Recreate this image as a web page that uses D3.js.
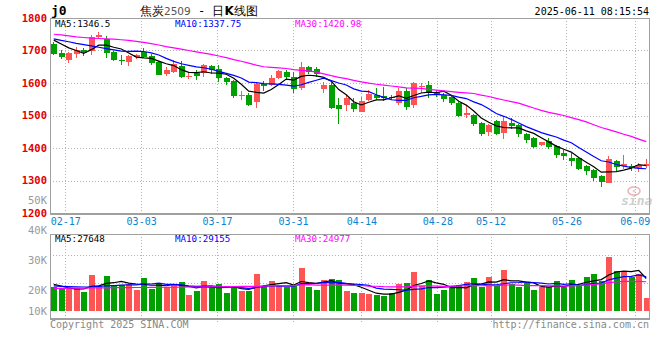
<!DOCTYPE html>
<html>
<head>
<meta charset="utf-8">
<script src="https://cdn.jsdelivr.net/npm/d3@7/dist/d3.min.js"></script>
<style>
body { margin: 0; background: #fff; }
svg text { font-family: "DejaVu Sans Mono", monospace; }
</style>
</head>
<body>
<svg width="660" height="360"></svg>
<script>
var dates = ["02-13","02-14","02-17","02-18","02-19","02-20","02-21","02-24","02-25","02-26",
    "02-27","02-28","03-03","03-04","03-05","03-06","03-07","03-10","03-11","03-12",
    "03-13","03-14","03-17","03-18","03-19","03-20","03-21","03-24","03-25","03-26",
    "03-27","03-28","03-31","04-01","04-02","04-03","04-07","04-08","04-09","04-10",
    "04-11","04-14","04-15","04-16","04-17","04-18","04-21","04-22","04-23","04-24",
    "04-25","04-28","04-29","04-30","05-06","05-07","05-08","05-09","05-12","05-13",
    "05-14","05-15","05-16","05-19","05-20","05-21","05-22","05-23","05-26","05-27",
    "05-28","05-29","05-30","06-03","06-04","06-05","06-06","06-09","06-10","06-11"]

var open = [1721,1693,1671,1690,1703,1697,1741,1736,1695,1670,
    1664,1680,1695,1684,1664,1628,1635,1651,1619,1632,
    1630,1652,1643,1615,1607,1560,1563,1542,1597,1593,
    1615,1635,1619,1584,1648,1643,1582,1594,1532,1532,
    1540,1512,1548,1563,1561,1558,1537,1575,1532,1590,
    1594,1573,1564,1558,1539,1503,1502,1478,1450,1484,
    1447,1478,1471,1443,1430,1408,1422,1406,1386,1370,
    1370,1346,1332,1313,1293,1361,1345,1345,1337,1344]
var high = [1725,1703,1694,1712,1707,1748,1758,1746,1699,1685,
    1687,1690,1707,1690,1667,1649,1671,1668,1632,1640,
    1659,1655,1655,1620,1610,1575,1568,1600,1606,1625,
    1640,1640,1633,1666,1652,1650,1604,1604,1555,1563,
    1555,1558,1579,1584,1589,1562,1584,1584,1602,1599,
    1606,1580,1570,1561,1541,1532,1505,1481,1474,1487,
    1496,1491,1474,1446,1433,1420,1430,1408,1394,1384,
    1373,1349,1335,1316,1376,1363,1378,1351,1355,1367]
var low = [1686,1675,1662,1676,1683,1687,1736,1677,1668,1656,
    1652,1674,1677,1655,1624,1621,1632,1614,1612,1610,
    1620,1628,1604,1594,1555,1547,1529,1524,1576,1590,
    1611,1610,1568,1580,1628,1620,1568,1519,1474,1514,
    1510,1510,1545,1548,1545,1548,1532,1518,1524,1568,
    1553,1556,1542,1533,1495,1492,1467,1438,1437,1440,
    1428,1458,1434,1416,1400,1405,1398,1368,1363,1346,
    1333,1317,1297,1280,1292,1330,1335,1330,1325,1340]
var close = [1688,1680,1692,1703,1695,1743,1749,1692,1671,1668,
    1682,1686,1680,1663,1626,1641,1658,1617,1621,1622,
    1655,1639,1615,1604,1561,1562,1532,1598,1592,1616,
    1638,1617,1581,1650,1633,1628,1594,1524,1520,1553,
    1520,1545,1566,1555,1554,1553,1575,1527,1599,1592,
    1568,1564,1552,1537,1498,1509,1474,1443,1471,1443,
    1484,1469,1443,1425,1404,1418,1404,1378,1376,1361,
    1336,1330,1307,1294,1366,1341,1352,1338,1348,1350]
var volume = [20100,19300,19600,19300,16200,30600,21300,29800,22400,21800,
    23000,17900,28100,18700,22700,20100,23000,24700,13600,17000,
    25500,19900,23000,15300,20100,17000,17000,31500,21300,25500,
    21300,20700,21300,36600,20700,17900,26400,27200,26400,17000,
    15300,15300,14500,13600,13000,15300,23000,23800,33500,21300,
    26400,14500,17900,19300,22100,24700,28100,20100,28900,21300,
    34900,23000,20100,23500,17900,20100,20100,25500,20100,26400,
    21300,28900,31500,25500,46000,34000,32900,28700,31500,11100]

// averages before enough days are on the chart
var ma5Head = [1732,1720,1708,1700]
var ma10Head = [1736,1731,1727,1722,1718,1714,1710,1706,1702]
var ma30Head = [1750,1748,1745,1742,1740,1738,1737,1736,1735,1733,
    1731,1728,1725,1721,1717,1712,1708,1704,1700,1696,
    1692,1688,1683,1678,1672,1667,1661,1655,1650]
var vma5Head = [22700,21300,19600,18600]
var vma10Head = [21300,21000,20700,20500,20400,20600,21000,21300,21600]
var vma30Head = [19300,19300,19400,19400,19500,19600,19600,19700,19800,19800,
    19900,20000,20000,20100,20100,20200,20200,20300,20400,20400,
    20500,20600,20600,20700,20800,20900,20900,21000,21100]

var dateTicks = ["02-17","03-03","03-17","03-31","04-14","04-28","05-12","05-26","06-09"]
var priceTicks = [1200,1300,1400,1500,1600,1700,1800]
var volTicks = [10000,20000,30000,40000,50000]
var priceLegend = ["MA5:1346.5", "MA10:1337.75", "MA30:1420.98"]
var volLegend = ["MA5:27648", "MA10:29155", "MA30:24977"]

var RED = "#ff5454", GREEN = "#00a000", GRID = "#b4b4b4", BORDER = "#a0a0a0"
var maColors = ["#000000", "#0000ff", "#ff00ff"]

var svg = d3.select("svg")
var left = 50, right = 650
var pTop = 18, pBot = 213, vTop = 234, vBot = 318, vBase = 311

var scX = d3.scaleBand().domain(dates).range([left, right]).paddingInner(0.2).paddingOuter(0.1)
var scTick = d3.scalePoint().domain(dates).range([left, right])
var scY = d3.scaleLinear().domain([1200, 1800]).range([pBot, pTop])
var scV = d3.scaleLinear().domain([0, 65500]).range([vBase, vTop])
// the volume labels sit on their own uneven scale in the original
var scVLabel = d3.scaleLinear().domain([10000, 20000, 50000]).range([vBase, 290, 200.5])

var cx = d => scX(d) + scX.bandwidth() / 2

function movingAvg(values, n, head) {
    return values.map(function (v, i) {
        if (i < n - 1) return head[i]
        return d3.mean(values.slice(i - n + 1, i + 1))
    })
}

//gridlines
var grid = svg.append("g").attr("stroke", GRID).attr("stroke-dasharray", "1,2")
grid.selectAll("line.h").data([1300, 1400, 1500, 1600, 1700]).enter()
    .append("line")
    .attr("x1", left).attr("x2", right)
    .attr("y1", d => Math.round(scY(d)) + 0.5).attr("y2", d => Math.round(scY(d)) + 0.5)
grid.selectAll("line.vp").data(dateTicks).enter()
    .append("line")
    .attr("x1", d => Math.round(scTick(d)) + 0.5).attr("x2", d => Math.round(scTick(d)) + 0.5)
    .attr("y1", pTop).attr("y2", pBot)
grid.selectAll("line.vv").data(dateTicks).enter()
    .append("line")
    .attr("x1", d => Math.round(scTick(d)) + 0.5).attr("x2", d => Math.round(scTick(d)) + 0.5)
    .attr("y1", vTop).attr("y2", vBot + 4)
grid.selectAll("line.hv").data([1, 2]).enter()
    .append("line")
    .attr("x1", left).attr("x2", right)
    .attr("y1", d => vBase - 28 * d + 0.5).attr("y2", d => vBase - 28 * d + 0.5)

//candles
var candles = svg.append("g").attr("shape-rendering", "crispEdges")
    .selectAll("g").data(dates).enter().append("g")
    .attr("fill", (d, i) => close[i] >= open[i] ? RED : GREEN)
    .attr("stroke", (d, i) => close[i] >= open[i] ? RED : GREEN)
candles.append("line")
    .attr("x1", d => Math.floor(cx(d)) + 0.5).attr("x2", d => Math.floor(cx(d)) + 0.5)
    .attr("y1", (d, i) => scY(high[i])).attr("y2", (d, i) => scY(low[i]))
candles.append("rect")
    .attr("stroke", "none")
    .attr("x", d => Math.floor(cx(d)) - 2.5).attr("width", 6)
    .attr("y", (d, i) => scY(Math.max(open[i], close[i])))
    .attr("height", (d, i) => Math.max(1, Math.abs(scY(open[i]) - scY(close[i]))))

//volume bars
svg.append("g").attr("shape-rendering", "crispEdges")
    .selectAll("rect").data(dates).enter().append("rect")
    .attr("fill", (d, i) => close[i] >= open[i] ? RED : GREEN)
    .attr("x", d => Math.floor(cx(d)) - 2.5).attr("width", 6)
    .attr("y", (d, i) => scV(volume[i]))
    .attr("height", (d, i) => vBase - scV(volume[i]))

//moving averages
var clip = svg.append("clipPath").attr("id", "pclip")
clip.append("rect").attr("x", left).attr("y", pTop).attr("width", right - left).attr("height", pBot - pTop)

var priceMa = [movingAvg(close, 5, ma5Head), movingAvg(close, 10, ma10Head), movingAvg(close, 30, ma30Head)]
var volMa = [movingAvg(volume, 5, vma5Head), movingAvg(volume, 10, vma10Head), movingAvg(volume, 30, vma30Head)]

var lnPrice = d3.line().x((d, i) => cx(dates[i])).y(d => scY(d))
var lnVol = d3.line().x((d, i) => cx(dates[i])).y(d => scV(d))

svg.append("g").attr("clip-path", "url(#pclip)").attr("fill", "none")
    .selectAll("path").data(priceMa).enter().append("path")
    .attr("stroke", (d, k) => maColors[k]).attr("stroke-width", 1.2)
    .attr("d", lnPrice)
svg.append("g").attr("fill", "none")
    .selectAll("path").data(volMa).enter().append("path")
    .attr("stroke", (d, k) => maColors[k]).attr("stroke-width", 1.2)
    .attr("d", lnVol)

//frames
var frames = svg.append("g").attr("fill", "none").attr("stroke", BORDER).attr("shape-rendering", "crispEdges")
frames.append("path").attr("d", `M${left + 0.5},${pBot} V${pTop + 0.5} H${right - 0.5} V${pBot}`)
frames.append("line").attr("x1", left).attr("x2", right).attr("y1", pBot + 0.5).attr("y2", pBot + 0.5).attr("stroke-width", 2)
frames.append("path").attr("d", `M${left + 0.5},${vBot} V${vTop + 0.5} H${right - 0.5} V${vBot}`)
frames.append("line").attr("x1", left).attr("x2", right).attr("y1", vBot + 0.5).attr("y2", vBot + 0.5).attr("stroke-width", 2)

//axes
var axP = svg.append("g").attr("transform", `translate(${left},0)`)
    .call(d3.axisLeft(scY).tickValues(priceTicks).tickSize(0).tickPadding(3).tickFormat(d3.format("d")))
axP.select(".domain").remove()
axP.selectAll("text").attr("fill", "#e00000").attr("font-size", 10.5).attr("font-weight", "bold")
    .attr("font-family", "DejaVu Sans Mono")

var axV = svg.append("g").attr("transform", `translate(${left},0)`)
    .call(d3.axisLeft(scVLabel).tickValues(volTicks).tickSize(0).tickPadding(3).tickFormat(d => d / 1000 + "K"))
axV.select(".domain").remove()
axV.selectAll("text").attr("fill", "#999").attr("font-size", 10.5)
    .attr("font-family", "DejaVu Sans Mono")

var axD = svg.append("g").attr("transform", `translate(0,${pBot})`)
    .call(d3.axisBottom(scTick).tickValues(dateTicks).tickSize(0).tickPadding(5))
axD.select(".domain").remove()
axD.selectAll("text").attr("fill", "#0a84d0").attr("font-size", 10)
    .attr("font-family", "DejaVu Sans Mono")

//legends
var legX = [55, 175, 295]
svg.append("g").attr("font-size", 9.2)
    .selectAll("text").data(priceLegend).enter().append("text")
    .attr("x", (d, k) => legX[k]).attr("y", 27)
    .attr("fill", (d, k) => maColors[k]).text(d => d)
svg.append("g").attr("font-size", 9.2)
    .selectAll("text").data(volLegend).enter().append("text")
    .attr("x", (d, k) => legX[k]).attr("y", 242)
    .attr("fill", (d, k) => maColors[k]).text(d => d)

//titles
svg.append("text").attr("x", 51).attr("y", 15).attr("font-size", 13).attr("font-weight", "bold")
    .text("j0")
var title = svg.append("text").attr("x", 140).attr("y", 15).attr("font-size", 12)
    .attr("font-family", "Noto Sans CJK SC")
title.append("tspan").text("焦炭")
title.append("tspan").attr("font-family", "DejaVu Sans").attr("font-size", 10.5).attr("fill", "#555").text("2509")
title.append("tspan").text(" - 日")
title.append("tspan").attr("font-weight", "bold").attr("font-family", "DejaVu Sans").text("K")
title.append("tspan").text("线图")
svg.append("text").attr("x", 649).attr("y", 15).attr("font-size", 10).attr("text-anchor", "end")
    .text("2025-06-11 08:15:54")

svg.append("text").attr("x", 50).attr("y", 328).attr("font-size", 10).attr("fill", "#888")
    .text("Copyright 2025 SINA.COM")
svg.append("text").attr("x", 649).attr("y", 328).attr("font-size", 10).attr("fill", "#888")
    .attr("text-anchor", "end").text("http://finance.sina.com.cn")

//watermark
var logo = svg.append("g").attr("opacity", 0.6)
logo.append("ellipse").attr("cx", 634).attr("cy", 191).attr("rx", 6).attr("ry", 4)
    .attr("fill", "none").attr("stroke", "#e08080").attr("stroke-width", 1.5)
logo.append("circle").attr("cx", 634).attr("cy", 191).attr("r", 1.5).attr("fill", "#c0c0c0")
logo.append("text").attr("x", 621).attr("y", 205).attr("font-size", 13).attr("font-style", "italic")
    .attr("font-weight", "bold").attr("font-family", "DejaVu Sans").attr("fill", "#b0b0b0").text("sina")
</script>
</body>
</html>
